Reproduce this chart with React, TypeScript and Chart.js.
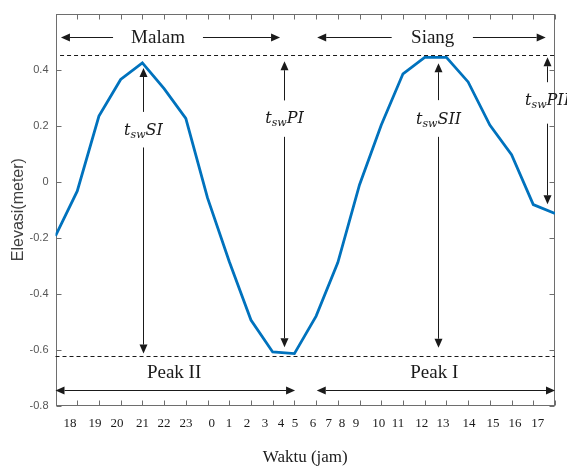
import { useEffect, useRef } from 'react';
import { Chart, registerables } from 'chart.js';

Chart.register(...registerables);

// ---- data ----
const hourLabels = ['18', '19', '20', '21', '22', '23', '0', '1', '2', '3', '4', '5', '6', '7', '8', '9', '10', '11', '12', '13', '14', '15', '16', '17'];
// where each hour label sits along the hour-index axis (as printed in the figure)
const hourLabelPos = [0.67, 1.82, 2.83, 4.01, 5.0, 6.01, 7.19, 7.99, 8.82, 9.65, 10.38, 11.03, 11.86, 12.58, 13.19, 13.84, 14.89, 15.77, 16.86, 17.84, 19.04, 20.14, 21.16, 22.2];
const elevation = [-0.194, -0.034, 0.234, 0.365, 0.424, 0.332, 0.226, -0.058, -0.285, -0.494, -0.608, -0.614, -0.48, -0.289, -0.011, 0.202, 0.385, 0.444, 0.444, 0.356, 0.202, 0.096, -0.082, -0.114];
const yTicks = [-0.8, -0.6, -0.4, -0.2, 0, 0.2, 0.4, 0.6];

// dashed reference levels
const levelValues = [0.452, -0.624];
const levelStart = [0.21, 0];

// Malam / Siang period arrows (hour-index units)
const periodNames = ['Malam', 'Siang'];
const periodSpans = [[0.25, 10.34], [12.05, 22.57]];
const periodGaps = [[2.65, 6.79], [15.48, 19.22]];
const periodTextX = [4.72, 17.37];
const periodY = 0.515;

// Peak arrows
const peakNames = ['Peak II', 'Peak I'];
const peakSpans = [[0, 11.03], [12.03, 23]];
const peakTextX = [5.46, 17.44];
const peakArrowY = -0.744;
const peakTextY = -0.683;

// t_sw markers
const swNames = ['SI', 'PI', 'SII', 'PII'];
const swX = [4.01, 10.52, 17.6, 22.62];
const swUp = [[0.249, 0.406], [0.29, 0.43], [0.291, 0.423], [0.355, 0.444]];
const swTextY = [0.186, 0.228, 0.225, 0.29];
const swDown = [[0.122, -0.614], [0.16, -0.591], [0.16, -0.593], [0.207, -0.081]];

const INK = '#1a1a1a';

function arrowHead(ctx: CanvasRenderingContext2D, x1: number, y1: number, x2: number, y2: number) {
  const ang = Math.atan2(y2 - y1, x2 - x1);
  const len = 9;
  const hw = 4;
  const bx = x2 - len * Math.cos(ang);
  const by = y2 - len * Math.sin(ang);
  ctx.beginPath();
  ctx.moveTo(x2, y2);
  ctx.lineTo(bx + hw * Math.sin(ang), by - hw * Math.cos(ang));
  ctx.lineTo(bx - hw * Math.sin(ang), by + hw * Math.cos(ang));
  ctx.closePath();
  ctx.fill();
  return [bx, by];
}

function arrow(ctx: CanvasRenderingContext2D, x1: number, y1: number, x2: number, y2: number, both = false) {
  let sx = x1, sy = y1;
  const [bx, by] = arrowHead(ctx, x1, y1, x2, y2);
  if (both) {
    const r = arrowHead(ctx, x2, y2, x1, y1);
    sx = r[0]; sy = r[1];
  }
  ctx.beginPath();
  ctx.moveTo(sx, sy);
  ctx.lineTo(bx, by);
  ctx.stroke();
}

function swText(ctx: CanvasRenderingContext2D, sub: string, cx: number, cy: number) {
  const main = 'italic 16px "DejaVu Serif"';
  const small = 'italic 11px "DejaVu Serif"';
  ctx.font = main;
  const wT = ctx.measureText('t').width;
  const wR = ctx.measureText(sub).width;
  ctx.font = small;
  const wS = ctx.measureText('sw').width;
  const total = wT + wS + wR;
  const x0 = cx - total / 2;
  const base = cy + 5;
  ctx.textAlign = 'left';
  ctx.textBaseline = 'alphabetic';
  ctx.font = main;
  ctx.fillText('t', x0, base);
  ctx.font = small;
  ctx.fillText('sw', x0 + wT, base + 3);
  ctx.font = main;
  ctx.fillText(sub, x0 + wT + wS, base);
}

const framePlugin = {
  id: 'frame',
  beforeDatasetsDraw(chart: any) {
    const { ctx, chartArea: a, scales } = chart;
    const x = scales.x, y = scales.y;
    ctx.save();
    ctx.strokeStyle = '#6e6e6e';
    ctx.lineWidth = 1;
    const L = Math.round(a.left) + 0.5, R = Math.round(a.right) - 0.5;
    const T = Math.round(a.top) + 0.5, B = Math.round(a.bottom) - 0.5;
    ctx.strokeRect(L, T, R - L, B - T);
    ctx.beginPath();
    for (let i = 0; i < elevation.length; i++) {
      const p = Math.round(x.getPixelForValue(i)) + 0.5;
      ctx.moveTo(p, T); ctx.lineTo(p, T + 5);
      ctx.moveTo(p, B); ctx.lineTo(p, B - 5);
    }
    for (const t of yTicks) {
      const p = Math.round(y.getPixelForValue(t)) + 0.5;
      ctx.moveTo(L, p); ctx.lineTo(L + 5, p);
      ctx.moveTo(R, p); ctx.lineTo(R - 5, p);
    }
    ctx.stroke();
    ctx.restore();
  },
  afterDatasetsDraw(chart: any) {
    const { ctx, scales } = chart;
    const x = scales.x, y = scales.y;
    const px = (v: number) => x.getPixelForValue(v);
    const py = (v: number) => y.getPixelForValue(v);
    ctx.save();
    ctx.strokeStyle = INK;
    ctx.fillStyle = INK;
    ctx.lineWidth = 1;

    // dashed levels
    ctx.setLineDash([4, 3]);
    levelValues.forEach((lv, i) => {
      const yy = Math.round(py(lv)) + 0.5;
      ctx.beginPath();
      ctx.moveTo(px(levelStart[i]), yy);
      ctx.lineTo(px(elevation.length - 1), yy);
      ctx.stroke();
    });
    ctx.setLineDash([]);

    // period arrows
    periodNames.forEach((name, i) => {
      const yy = Math.round(py(periodY)) + 0.5;
      arrow(ctx, px(periodGaps[i][0]), yy, px(periodSpans[i][0]), yy);
      arrow(ctx, px(periodGaps[i][1]), yy, px(periodSpans[i][1]), yy);
      ctx.font = '19px "Liberation Serif"';
      ctx.textAlign = 'center';
      ctx.textBaseline = 'middle';
      ctx.fillText(name, px(periodTextX[i]), yy + 1);
    });

    // peak arrows
    peakNames.forEach((name, i) => {
      const yy = Math.round(py(peakArrowY)) + 0.5;
      arrow(ctx, px(peakSpans[i][0]), yy, px(peakSpans[i][1]), yy, true);
      ctx.font = '19px "Liberation Serif"';
      ctx.textAlign = 'center';
      ctx.textBaseline = 'middle';
      ctx.fillText(name, px(peakTextX[i]), py(peakTextY));
    });

    // t_sw markers
    swNames.forEach((name, i) => {
      const xx = Math.round(px(swX[i])) + 0.5;
      arrow(ctx, xx, py(swUp[i][0]), xx, py(swUp[i][1]));
      arrow(ctx, xx, py(swDown[i][0]), xx, py(swDown[i][1]));
      swText(ctx, name, xx, py(swTextY[i]));
    });
    ctx.restore();
  },
};

export default function App() {
  const ref = useRef<HTMLCanvasElement>(null);
  useEffect(() => {
    const canvas = ref.current;
    if (!canvas) return;
    const chart = new Chart(canvas, {
      type: 'line',
      data: {
        datasets: [
          {
            data: elevation.map((v, i) => ({ x: i, y: v })),
            borderColor: '#0072BD',
            borderWidth: 2.8,
            pointRadius: 0,
            tension: 0,
            fill: false,
          },
        ],
      },
      options: {
        animation: false,
        responsive: false,
        layout: { padding: { top: 11, right: 12, left: 0, bottom: 0 } },
        plugins: { legend: { display: false }, tooltip: { enabled: false } },
        scales: {
          x: {
            type: 'linear',
            min: 0,
            max: elevation.length - 1,
            grid: { display: false, drawTicks: false },
            border: { display: false },
            afterBuildTicks: (scale: any) => {
              scale.ticks = hourLabelPos.map((v) => ({ value: v }));
            },
            afterFit: (scale: any) => {
              scale.height = 62.3;
            },
            ticks: {
              autoSkip: false,
              maxRotation: 0,
              padding: 10,
              color: INK,
              font: { family: '"Liberation Serif"', size: 13 },
              callback: (_v: any, i: number) => hourLabels[i],
            },
            title: {
              display: true,
              text: 'Waktu (jam)',
              color: INK,
              font: { family: '"Liberation Serif"', size: 17 },
              padding: { top: 0, bottom: 0 },
            },
          },
          y: {
            type: 'linear',
            min: -0.8,
            max: 0.6,
            grid: { display: false, drawTicks: false },
            border: { display: false },
            afterBuildTicks: (scale: any) => {
              scale.ticks = yTicks.map((v) => ({ value: v }));
            },
            afterFit: (scale: any) => {
              scale.width = 55.5;
            },
            ticks: {
              padding: 7,
              color: '#555555',
              font: { family: '"Liberation Sans"', size: 11 },
              callback: (v: any) => (Math.abs(v - 0.6) < 1e-6 ? '' : String(Math.round(v * 10) / 10)),
            },
            title: {
              display: true,
              text: 'Elevasi(meter)',
              color: '#404040',
              font: { family: '"Liberation Sans"', size: 16 },
              padding: { top: 9, bottom: 0 },
            },
          },
        },
      },
      plugins: [framePlugin],
    });
    return () => chart.destroy();
  }, []);
  return (
    <div style={{ position: 'absolute', left: 0, top: 0, width: 567, height: 468, background: '#fff' }}>
      <canvas ref={ref} width={567} height={468} style={{ display: 'block' }} />
    </div>
  );
}
